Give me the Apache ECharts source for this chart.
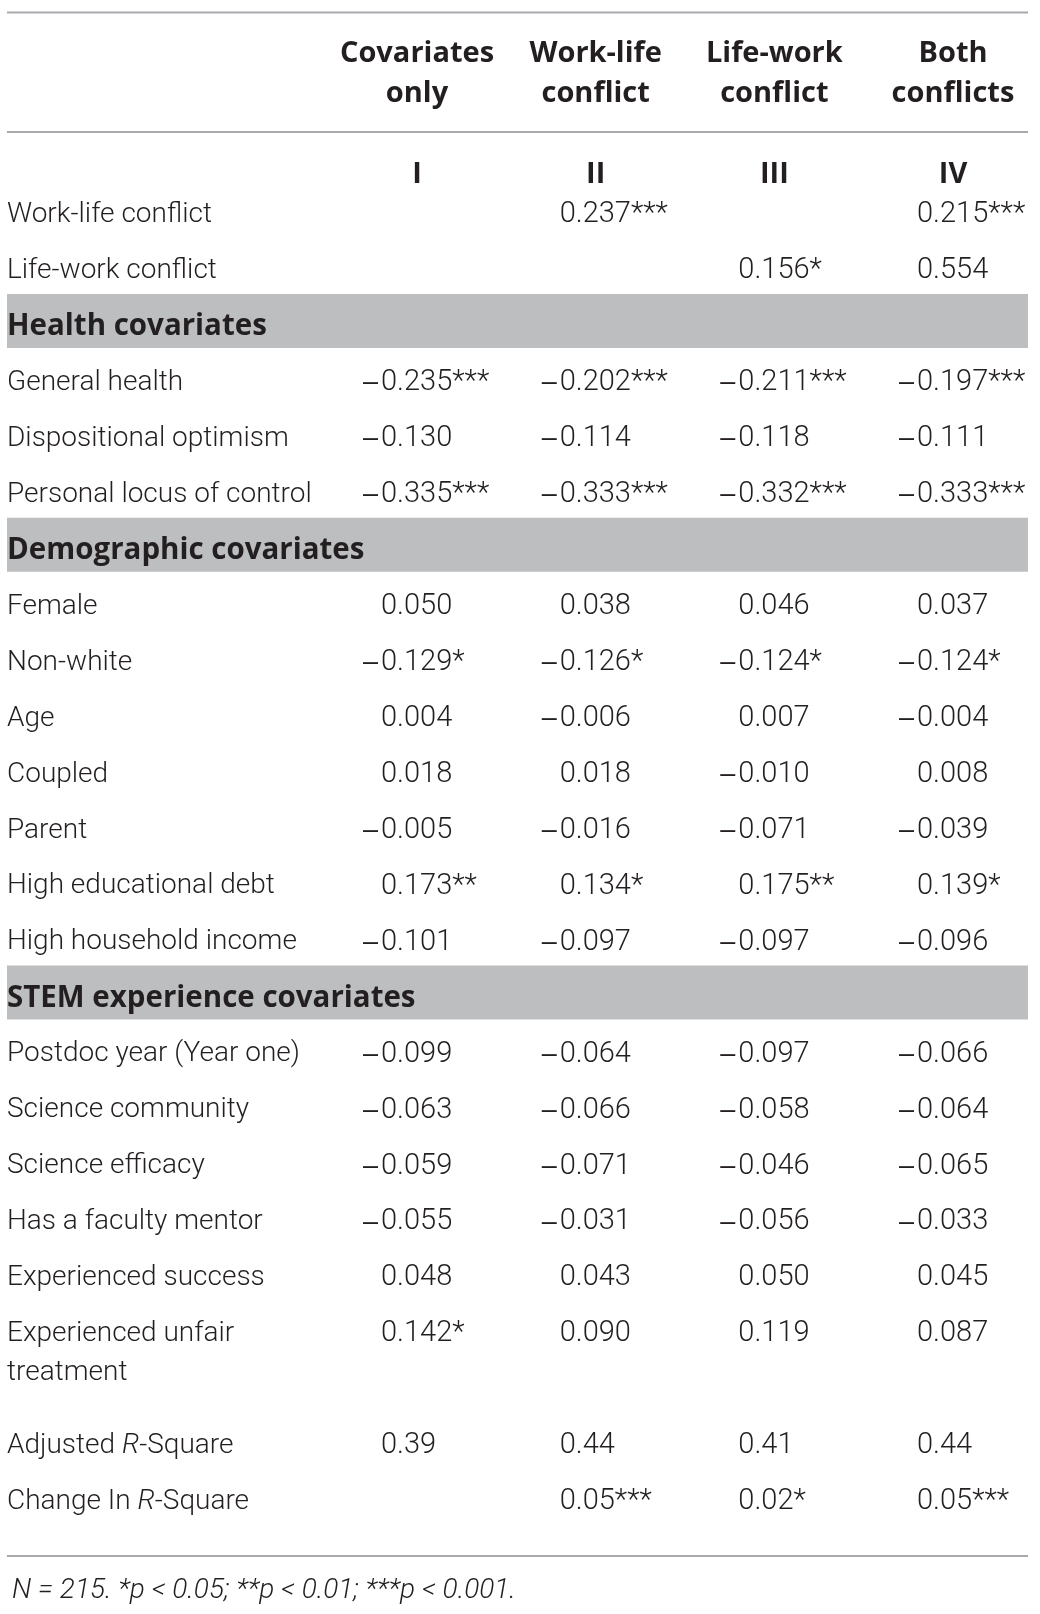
<!DOCTYPE html>
<html>
<head>
<meta charset="utf-8">
<title>Regression table</title>
<script src="https://cdn.jsdelivr.net/npm/echarts@6/dist/echarts.min.js"></script>
<style>
  html, body { margin: 0; padding: 0; background: #fff; }
  #main { width: 1040px; height: 1614px; }
</style>
</head>
<body>
<div id="main"></div>
<script>
// rows of the table, top to bottom ('' = spacer row)
var rowLabels = ['Work-life conflict', 'Life-work conflict', 'Health covariates', 'General health',
  'Dispositional optimism', 'Personal locus of control', 'Demographic covariates', 'Female',
  'Non-white', 'Age', 'Coupled', 'Parent', 'High educational debt', 'High household income',
  'STEM experience covariates', 'Postdoc year (Year one)', 'Science community', 'Science efficacy',
  'Has a faculty mentor', 'Experienced success', 'Experienced unfair\ntreatment', '',
  'Adjusted R-Square', 'Change In R-Square'];
var sectionRows = ['Health covariates', 'Demographic covariates', 'STEM experience covariates'];

var modelNumbers = ['I', 'II', 'III', 'IV'];
var modelNames = ['Covariates\nonly', 'Work-life\nconflict', 'Life-work\nconflict', 'Both\nconflicts'];

// one array per model column, same order as rowLabels
var covariatesOnly = ['', '', '', '–0.235***', '–0.130', '–0.335***', '', '0.050', '–0.129*', '0.004',
  '0.018', '–0.005', '0.173**', '–0.101', '', '–0.099', '–0.063', '–0.059', '–0.055', '0.048',
  '0.142*', '', '0.39', ''];
var workLife = ['0.237***', '', '', '–0.202***', '–0.114', '–0.333***', '', '0.038', '–0.126*', '–0.006',
  '0.018', '–0.016', '0.134*', '–0.097', '', '–0.064', '–0.066', '–0.071', '–0.031', '0.043',
  '0.090', '', '0.44', '0.05***'];
var lifeWork = ['', '0.156*', '', '–0.211***', '–0.118', '–0.332***', '', '0.046', '–0.124*', '0.007',
  '–0.010', '–0.071', '0.175**', '–0.097', '', '–0.097', '–0.058', '–0.046', '–0.056', '0.050',
  '0.119', '', '0.41', '0.02*'];
var bothConflicts = ['0.215***', '0.554', '', '–0.197***', '–0.111', '–0.333***', '', '0.037', '–0.124*', '–0.004',
  '0.008', '–0.039', '0.139*', '–0.096', '', '–0.066', '–0.064', '–0.065', '–0.033', '0.045',
  '0.087', '', '0.44', '0.05***'];

var footnote = 'N = 215. *p < 0.05; **p < 0.01; ***p < 0.001.';

var TEXT = '#231f20';
var LIGHT = "Roboto, 'Liberation Sans', sans-serif";
var BOLD = "'Open Sans', 'Liberation Sans', sans-serif";
var TABLE_L = 7, TABLE_R = 1028;
var CORE_HALF = 36; // half width of "0.000", digits start here

var columns = [covariatesOnly, workLife, lifeWork, bothConflicts];
var cells = [];
columns.forEach(function (col, c) {
  col.forEach(function (t, r) {
    if (t) cells.push({ col: c, row: r, text: t });
  });
});
var bandData = sectionRows.map(function (s) { return [0, rowLabels.indexOf(s)]; });

var chart = echarts.init(document.getElementById('main'));

chart.setOption({
  backgroundColor: '#fff',
  animation: false,
  title: {
    text: footnote,
    left: TABLE_L,
    top: 1572,
    textStyle: { fontFamily: LIGHT, fontWeight: 300, fontStyle: 'italic', fontSize: 28, color: TEXT }
  },
  grid: { left: 417, right: 87, top: 187, bottom: 84 },
  xAxis: [{
    type: 'category',
    data: modelNumbers,
    position: 'top',
    boundaryGap: false,
    axisLine: { show: false },
    axisTick: { show: false },
    splitLine: { show: false },
    axisLabel: {
      interval: 0, margin: 12, verticalAlign: 'middle',
      fontFamily: BOLD, fontWeight: 700, fontSize: 29, color: TEXT
    }
  }, {
    type: 'category',
    data: modelNames,
    position: 'top',
    boundaryGap: false,
    axisLine: { show: false },
    axisTick: { show: false },
    axisLabel: {
      interval: 0, margin: 113, verticalAlign: 'middle', lineHeight: 40,
      fontFamily: BOLD, fontWeight: 700, fontSize: 29, color: TEXT
    }
  }],
  yAxis: {
    type: 'category',
    data: rowLabels,
    inverse: true,
    z: 5,
    axisLine: { show: false },
    axisTick: { show: false },
    splitLine: { show: false },
    axisLabel: {
      interval: 0, align: 'left', margin: 410, lineHeight: 39,
      fontFamily: LIGHT, fontWeight: 300, fontSize: 28, color: TEXT,
      formatter: function (v) {
        if (sectionRows.indexOf(v) >= 0) return '{b|' + v + '}';
        if (v.indexOf('R-Square') >= 0) {
          var k = v.indexOf('R-Square');
          return '{n|' + v.slice(0, k) + '}{i|R}{n|-Square}';
        }
        if (v.indexOf('\n') >= 0) return '\n' + v; // keep first line on the row centre
        return v;
      },
      rich: {
        b: { fontFamily: BOLD, fontWeight: 700, fontSize: 29.5, color: TEXT, lineHeight: 39 },
        n: { fontFamily: LIGHT, fontWeight: 300, fontSize: 28, color: TEXT, lineHeight: 39 },
        i: { fontFamily: LIGHT, fontWeight: 300, fontStyle: 'italic', fontSize: 28, color: TEXT, lineHeight: 39 }
      }
    }
  },
  graphic: [
    { type: 'line', shape: { x1: TABLE_L, y1: 12.5, x2: TABLE_R, y2: 12.5 }, style: { stroke: '#a7a9ac', lineWidth: 2 } },
    { type: 'line', shape: { x1: TABLE_L, y1: 132, x2: TABLE_R, y2: 132 }, style: { stroke: '#a7a9ac', lineWidth: 2 } },
    { type: 'line', shape: { x1: TABLE_L, y1: 1556, x2: TABLE_R, y2: 1556 }, style: { stroke: '#a7a9ac', lineWidth: 2 } }
  ],
  series: [{
    // grey section bands
    type: 'custom',
    z: 1,
    clip: false,
    data: bandData,
    renderItem: function (params, api) {
      var p = api.coord([api.value(0), api.value(1)]);
      var h = api.size([0, 1])[1];
      return {
        type: 'rect',
        shape: { x: TABLE_L, y: p[1] - h / 2 - 5, width: TABLE_R - TABLE_L, height: h - 2 },
        style: { fill: '#bcbec0' }
      };
    }
  }, {
    // coefficient cells
    type: 'custom',
    z: 3,
    clip: false,
    data: cells.map(function (c) { return [c.col, c.row]; }),
    renderItem: function (params, api) {
      var cell = cells[params.dataIndex];
      var p = api.coord([api.value(0), api.value(1)]);
      var neg = cell.text.charAt(0) === '–';
      var body = neg ? cell.text.slice(1) : cell.text;
      var x0 = p[0] - CORE_HALF;
      var kids = [{
        type: 'text',
        style: { x: x0, y: p[1], text: body, align: 'left', verticalAlign: 'middle',
          fontFamily: LIGHT, fontWeight: 300, fontSize: 29, fill: TEXT }
      }];
      if (neg) {
        kids.push({
          type: 'text',
          style: { x: x0 - 3, y: p[1], text: '–', align: 'right', verticalAlign: 'middle',
            fontFamily: "'Liberation Sans', sans-serif", fontSize: 27, fill: TEXT }
        });
      }
      return { type: 'group', children: kids };
    }
  }]
});
</script>
</body>
</html>
